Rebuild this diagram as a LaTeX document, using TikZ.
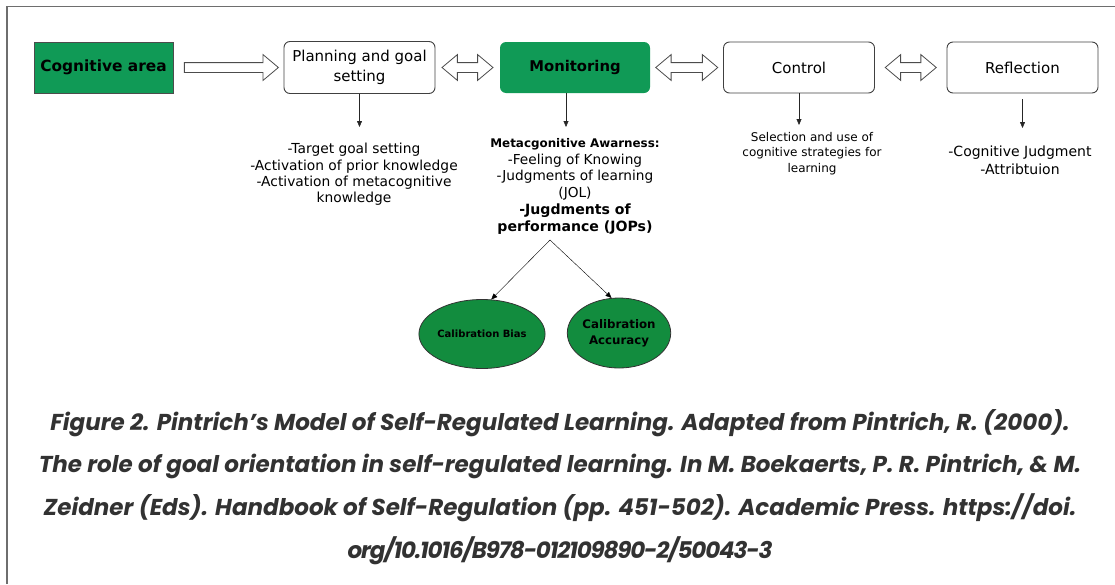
\documentclass[tikz,border=0pt]{standalone}
\usepackage{fontspec}
\setmainfont{DejaVu Sans}
\newfontfamily\capfont{Poppins}[Numbers=Proportional]
\usepackage{tikz}
\usetikzlibrary{positioning, calc, arrows.meta, shapes.geometric, shapes.arrows}

\definecolor{leafgreen}{RGB}{16,154,86}
\definecolor{ovalgreen}{RGB}{18,140,62}
\definecolor{framegray}{RGB}{110,110,110}
\definecolor{capgray}{RGB}{50,50,50}

\tikzset{
  stage/.style={draw=black!75, line width=0.9pt, rounded corners=6pt, minimum width=151pt, minimum height=52pt, align=center, font=\fontsize{15}{19.5}\selectfont},
  greenstage/.style={stage, draw=none, fill=leafgreen, font=\fontsize{14.8}{18}\selectfont\bfseries},
  areabox/.style={draw=black!70, line width=0.8pt, fill=leafgreen, minimum width=139pt, minimum height=51pt, font=\fontsize{15.4}{18}\selectfont\bfseries},
  oval/.style={ellipse, draw=black!80, line width=0.8pt, fill=ovalgreen, inner sep=0pt, align=center, font=\bfseries},
  twoway/.style={double arrow, draw=black!70, fill=white, line width=0.8pt, inner sep=4.5pt, minimum width=25pt, double arrow head extend=8pt, double arrow tip angle=80},
  oneway/.style={single arrow, draw=black!70, fill=white, line width=0.8pt, inner sep=4.5pt, minimum width=25pt, single arrow head extend=8pt, single arrow tip angle=80},
  note/.style={align=center, inner sep=0pt}
}

\begin{document}
\begin{tikzpicture}[x=1pt, y=-1pt, >={Triangle[length=6pt,width=5pt]}, thin]
    \useasboundingbox (0,0) rectangle (1115,584);
    \draw[framegray, line width=1.3pt] (7,584) -- (7,6.5) -- (1115,6.5);

    % stages
    \node[areabox] (cog) at (103.5,67.5) {Cognitive area};
    \node[stage] (plan) at (359.5,67.5) {Planning and goal\\setting};
    \node[greenstage, minimum width=150pt, minimum height=51pt] (mon) at (575,67.5) {Monitoring};
    \node[stage, minimum height=51pt] (ctrl) at (799,67.5) {Control};
    \node[stage, minimum height=51pt] (refl) at (1022.5,67.5) {Reflection};

    % hollow arrows
    \node[oneway, minimum height=94pt] (cp) at ($(cog.east)!0.5!(plan.west)$) {};
    \node[twoway, minimum height=51pt] (pm) at ($(plan.east)!0.5!(mon.west)$) {};
    \node[twoway, minimum height=62pt] (mc) at ($(mon.east)!0.5!(ctrl.west)$) {};
    \node[twoway, minimum height=51pt] (cr) at ($(ctrl.east)!0.5!(refl.west)$) {};

    % notes under the stages
    \node[note, anchor=north, font=\fontsize{13.8}{16.4}\selectfont] (plantxt) at (354,143)
        {-Target goal setting\\-Activation of prior knowledge\\-Activation of metacognitive\\knowledge};
    \node[note, anchor=north, font=\fontsize{13.7}{16.8}\selectfont] (montxt) at (575,138)
        {{\fontsize{11.9}{16.8}\selectfont\bfseries Metacgonitive Awarness:}\\-Feeling of Knowing\\-Judgments of learning\\(JOL)\\{\fontsize{14.1}{16.8}\selectfont\bfseries -Jugdments of}\\{\fontsize{14.1}{16.8}\selectfont\bfseries performance (JOPs)}};
    \node[note, anchor=north, font=\fontsize{12}{15.5}\selectfont] (ctrltxt) at (812,132)
        {Selection and use of\\cognitive strategies for\\learning};
    \node[note, anchor=north, font=\fontsize{14}{17.5}\selectfont] (refltxt) at (1020,146)
        {-Cognitive Judgment\\-Attribtuion};

    \draw[->, black!85, shorten >=16pt] (plan.south) -- (plan.south |- plantxt.north);
    \draw[->, black!85, shorten >=11pt] ([xshift=-9pt]mon.south) -- ([xshift=-9pt]mon.south |- montxt.north);
    \draw[->, black!85, shorten >=7pt] (ctrl.south) -- (ctrl.south |- ctrltxt.north);
    \draw[->, black!85, shorten <=6pt, shorten >=18pt] (refl.south) -- (refl.south |- refltxt.north);

    % calibration
    \node[oval, minimum width=104pt, minimum height=69pt, font=\fontsize{10}{12}\selectfont\bfseries] (bias) at (482,334) {Calibration Bias};
    \node[oval, minimum width=103pt, minimum height=70pt, font=\fontsize{11.8}{16}\selectfont\bfseries] (acc) at (619,333) {Calibration\\Accuracy};
    \coordinate (split) at (550,240);
    \draw[->] (split) -- (bias.75);
    \draw[->] (split) -- (acc.102);

    % caption
    \node[note, anchor=north, text=capgray, font=\capfont\bfseries\itshape\fontsize{23}{42.7}\selectfont] (caption) at (560,409)
        {Figure 2. Pintrich’s Model of Self-Regulated Learning. Adapted from Pintrich, R. (2000).\\The role of goal orientation in self-regulated learning. In M. Boekaerts, P. R. Pintrich, \& M.\\Zeidner (Eds). Handbook of Self-Regulation (pp. 451-502). Academic Press. https://doi.\\{\addfontfeatures{LetterSpace=-5}org/10.1016/B978-012109890-2/50043-3}};
\end{tikzpicture}
\end{document}
